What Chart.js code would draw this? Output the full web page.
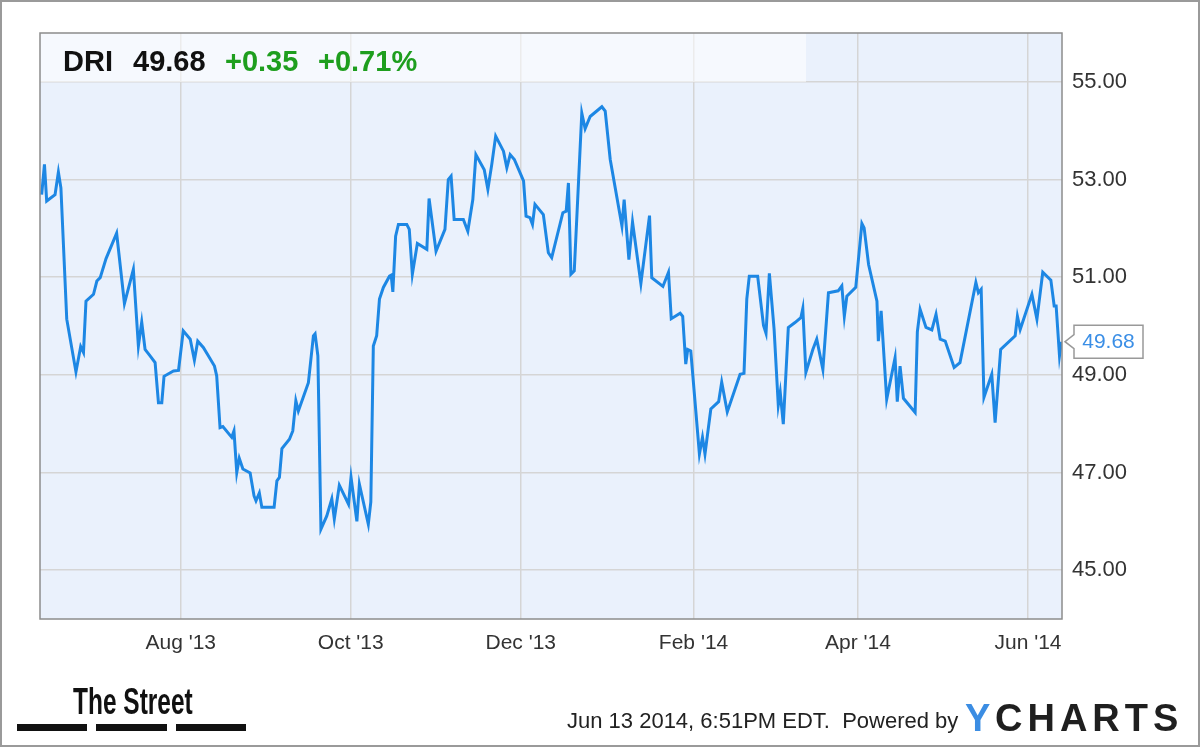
<!DOCTYPE html>
<html>
<head>
<meta charset="utf-8">
<script src="https://cdn.jsdelivr.net/npm/chart.js@4.4.1/dist/chart.umd.min.js"></script>
<style>
  html, body { margin: 0; padding: 0; background: #fff; }
  #wrap { width: 1200px; height: 747px; position: relative; }
</style>
</head>
<body>
<div id="wrap"><canvas id="chart"></canvas></div>
<script>
// days counted from Jun 13 2013
const days = [
  -0.9, 0.1, 0.9, 3.9, 5.1, 6.0, 8.1, 11.4, 13.1, 14.1, 15.0, 17.7, 18.9, 20.1, 22.2, 26.0,
  28.8, 32.0, 33.8, 35.0, 36.2, 38.0, 39.8, 41.0, 42.2, 43.0, 46.4, 48.2, 49.9, 52.4, 53.9,
  55.1, 57.1, 58.9, 61.1, 61.9, 63.1, 64.1, 67.3, 68.1, 69.1, 70.0, 71.3, 73.9, 75.3, 76.0,
  77.2, 78.1, 82.5, 83.5, 84.4, 85.3, 88.0, 89.2, 90.3, 91.2, 94.8, 96.6, 97.2, 98.2, 99.3,
  101.4, 103.2, 104.1, 105.9, 109.2, 110.1, 112.2, 113.1, 116.3, 117.2, 118.1, 119.3, 120.3,
  121.7, 123.9, 124.5, 125.1, 126.1, 127.1, 130.1, 131.0, 132.1, 133.9, 137.3, 138.1, 140.6,
  143.8, 145.0, 146.0, 147.1, 150.4, 152.0, 153.8, 154.9, 157.9, 159.2, 160.6, 162.0, 164.8,
  166.0, 167.2, 168.7, 172.0, 172.9, 174.3, 175.2, 176.1, 179.1, 180.9, 182.1, 186.1, 187.3,
  188.1, 189.0, 190.2, 192.9, 194.1, 195.9, 200.1, 201.3, 203.1, 207.3, 208.1, 209.8, 211.1,
  214.1, 217.2, 218.0, 222.0, 224.0, 225.0, 228.2, 229.1, 230.2, 230.9, 232.0, 235.1, 236.2,
  237.1, 239.2, 242.0, 243.1, 245.1, 249.7, 251.1, 252.1, 253.0, 256.0, 258.1, 259.0, 260.2,
  261.9, 263.4, 264.1, 265.2, 267.0, 269.4, 271.5, 272.2, 273.3, 275.8, 277.2, 279.4, 281.4,
  284.9, 286.2, 287.1, 288.0, 291.2, 293.4, 294.2, 295.8, 298.8, 299.3, 300.3, 302.3, 305.3,
  306.1, 307.1, 308.3, 312.5, 313.3, 314.3, 316.4, 318.5, 320.0, 321.5, 323.3, 326.5, 328.6,
  334.3, 335.2, 336.2, 337.2, 340.0, 341.2, 343.2, 348.4, 349.2, 350.2, 354.4, 356.2, 358.3,
  361.2, 362.4, 363.1, 364.3, 365.0
];
const prices = [
  52.69, 53.31, 52.56, 52.69, 53.15, 52.83, 50.14, 49.06, 49.58, 49.46, 50.51, 50.65, 50.92, 50.99, 51.38, 51.90,
  50.46, 51.16, 49.59, 50.08, 49.52, 49.39, 49.25, 48.43, 48.43, 48.97, 49.08, 49.09, 49.90, 49.73, 49.30,
  49.69, 49.56, 49.39, 49.18, 48.98, 47.92, 47.94, 47.72, 47.85, 47.00, 47.29, 47.07, 46.99, 46.52, 46.42,
  46.58, 46.29, 46.29, 46.83, 46.90, 47.49, 47.68, 47.85, 48.47, 48.26, 48.84, 49.80, 49.84, 49.39, 45.84,
  46.11, 46.46, 46.05, 46.74, 46.35, 46.90, 46.00, 46.76, 45.94, 46.40, 49.59, 49.80, 50.55,
  50.79, 51.02, 51.04, 50.70, 51.84, 52.08, 52.08, 51.98, 51.06, 51.69, 51.57, 52.61, 51.53,
  51.98, 53.00, 53.07, 52.18, 52.18, 51.94, 52.59, 53.51, 53.20, 52.80, 53.31, 53.89, 53.58,
  53.24, 53.51, 53.41, 52.97, 52.25, 52.22, 52.08, 52.49, 52.28, 51.50, 51.40, 52.32, 52.35,
  52.93, 51.06, 51.13, 54.36, 54.04, 54.29, 54.49, 54.40, 53.41, 52.05, 52.59, 51.36, 52.13,
  50.87, 52.26, 50.99, 50.81, 51.10, 50.15, 50.26, 50.20, 49.22, 49.52, 49.49, 47.38, 47.72,
  47.38, 48.30, 48.45, 48.85, 48.24, 49.01, 49.03, 50.55, 51.02, 51.02, 50.01, 49.85, 51.08,
  49.93, 48.38, 48.64, 47.99, 49.97, 50.07, 50.17, 50.36, 49.05, 49.52, 49.73, 49.11, 50.68,
  50.72, 50.82, 50.20, 50.61, 50.79, 52.10, 52.01, 51.26, 50.51, 49.69, 50.31, 48.50, 49.35,
  48.45, 49.18, 48.52, 48.23, 49.88, 50.34, 49.97, 49.92, 50.24, 49.73, 49.69, 49.15, 49.25,
  50.89, 50.68, 50.75, 48.54, 49.01, 48.02, 49.52, 49.80, 50.20, 49.93, 50.65, 50.14, 51.10,
  50.94, 50.41, 50.41, 49.39, 49.68
];
const monthDays = [49, 110, 171, 233, 292, 353];
const monthLabels = ["Aug '13", "Oct '13", "Dec '13", "Feb '14", "Apr '14", "Jun '14"];
const yTicks = [45, 47, 49, 51, 53, 55];

const ticker = "DRI";
const lastPrice = "49.68";
const change = "+0.35";
const changePct = "+0.71%";
const stamp = "Jun 13 2014, 6:51PM EDT.  Powered by";

const font = "'Liberation Sans', Arial, sans-serif";

const frame = {
  id: "frame",
  beforeDraw(chart) {
    const { ctx, chartArea: a } = chart;
    ctx.save();
    ctx.fillStyle = "#fff";
    ctx.fillRect(0, 0, chart.width, chart.height);
    ctx.fillStyle = "#eaf1fc";
    ctx.fillRect(a.left, a.top, a.right - a.left, a.bottom - a.top);
    ctx.restore();
  },
  beforeDatasetsDraw(chart) {
    const { ctx, chartArea: a } = chart;
    ctx.save();
    // header band
    ctx.fillStyle = "rgba(255,255,255,0.55)";
    ctx.fillRect(a.left, a.top, 806 - a.left, 49);
    ctx.font = "bold 29px " + font;
    ctx.textBaseline = "alphabetic";
    ctx.fillStyle = "#111";
    ctx.fillText(ticker, 63, 71);
    ctx.fillText(lastPrice, 133, 71);
    ctx.fillStyle = "#1e9e1e";
    ctx.fillText(change, 225, 71);
    ctx.fillText(changePct, 318, 71);
    ctx.restore();
  },
  afterDraw(chart) {
    const { ctx, chartArea: a } = chart;
    const y = chart.scales.y;
    ctx.save();
    // plot border
    ctx.strokeStyle = "#8c8c8c";
    ctx.lineWidth = 1.5;
    ctx.strokeRect(a.left, a.top, a.right - a.left, a.bottom - a.top);

    // last value callout
    const py = y.getPixelForValue(prices[prices.length - 1]);
    const bx = 1074, bw = 69, bh = 33;
    ctx.beginPath();
    ctx.moveTo(bx, py - bh / 2);
    ctx.lineTo(bx + bw, py - bh / 2);
    ctx.lineTo(bx + bw, py + bh / 2);
    ctx.lineTo(bx, py + bh / 2);
    ctx.lineTo(bx, py + 7);
    ctx.lineTo(bx - 9, py);
    ctx.lineTo(bx, py - 7);
    ctx.closePath();
    ctx.fillStyle = "#fff";
    ctx.fill();
    ctx.strokeStyle = "#999";
    ctx.lineWidth = 1.5;
    ctx.stroke();
    ctx.fillStyle = "#3a8ee6";
    ctx.font = "21px " + font;
    ctx.textAlign = "center";
    ctx.textBaseline = "middle";
    ctx.fillText(lastPrice, bx + bw / 2, py + 1);

    // footer: The Street
    ctx.textAlign = "left";
    ctx.textBaseline = "alphabetic";
    ctx.fillStyle = "#111";
    ctx.save();
    ctx.translate(73, 714);
    ctx.scale(0.68, 1);
    ctx.font = "bold 36px " + font;
    ctx.fillText("The Street", 0, 0);
    ctx.restore();
    ctx.fillRect(17, 724, 70, 7);
    ctx.fillRect(96, 724, 71, 7);
    ctx.fillRect(176, 724, 70, 7);

    // footer: timestamp + YCharts
    ctx.fillStyle = "#222";
    ctx.font = "22px " + font;
    ctx.fillText(stamp, 567, 728);
    ctx.font = "bold 38px " + font;
    ctx.fillStyle = "#3b8de3";
    ctx.fillText("Y", 965, 731);
    ctx.fillStyle = "#1f1f1f";
    ctx.letterSpacing = "5px";
    ctx.fillText("CHARTS", 995, 731);
    ctx.letterSpacing = "0px";

    // outer frame
    ctx.strokeStyle = "#9a9a9a";
    ctx.lineWidth = 2;
    ctx.strokeRect(1, 1, chart.width - 2, chart.height - 2);
    ctx.restore();
  }
};

new Chart(document.getElementById("chart"), {
  type: "line",
  data: {
    datasets: [{
      data: days.map((d, i) => ({ x: d, y: prices[i] })),
      borderColor: "#1d87e4",
      borderWidth: 3,
      pointRadius: 0,
      tension: 0,
      fill: false
    }]
  },
  options: {
    responsive: true,
    maintainAspectRatio: false,
    animation: false,
    layout: { padding: { left: 40, top: 33, right: 0, bottom: 88 } },
    plugins: { legend: { display: false }, tooltip: { enabled: false } },
    scales: {
      x: {
        type: "linear",
        min: -1.5,
        max: 365.2,
        afterBuildTicks(s) { s.ticks = monthDays.map(v => ({ value: v })); },
        afterFit(s) { s.height = 40; },
        grid: { color: "#d5d5d5", lineWidth: 1.5, drawTicks: false },
        border: { display: false },
        ticks: {
          autoSkip: false,
          maxRotation: 0,
          padding: 12,
          color: "#333",
          font: { family: font, size: 21 },
          callback: v => { const i = monthDays.indexOf(v); return i >= 0 ? monthLabels[i] : ""; }
        }
      },
      y: {
        position: "right",
        min: 44,
        max: 56,
        afterBuildTicks(s) { s.ticks = yTicks.map(v => ({ value: v })); },
        afterFit(s) { s.width = 138; },
        grid: { color: "#d5d5d5", lineWidth: 1.5, drawTicks: false },
        border: { display: false },
        ticks: {
          padding: 10,
          color: "#333",
          font: { family: font, size: 22 },
          callback: v => v.toFixed(2)
        }
      }
    }
  },
  plugins: [frame]
});
</script>
</body>
</html>
